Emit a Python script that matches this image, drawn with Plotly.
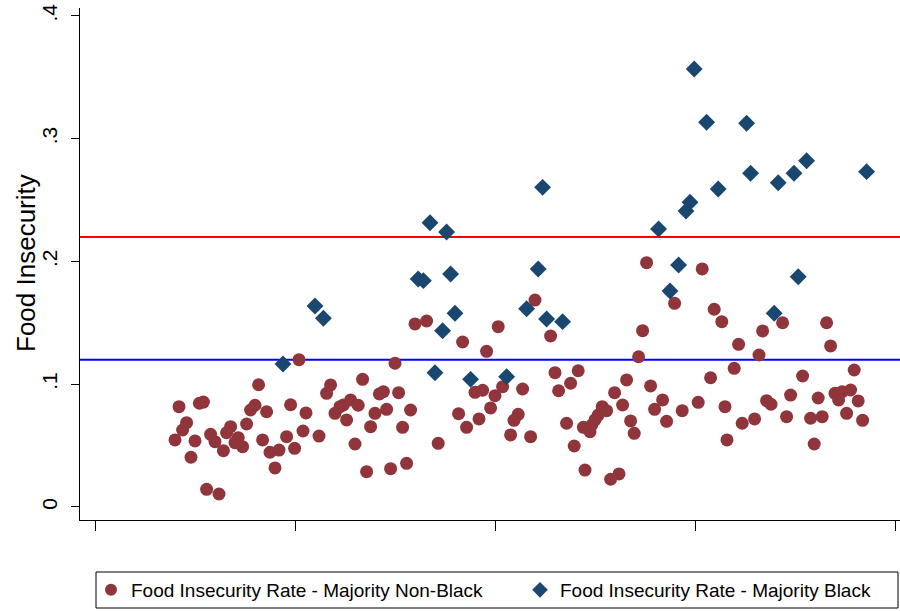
import plotly.graph_objects as go

# ---- data ----
nonblack_x = [51.0, 40.9, 21.0, 26.1, 27.1, 40.0, 38.9, 42.9, 48.9, 52.75,
              22.9, 21.9, 20.0, 25.0, 24.0, 28.9, 30.0, 32.1, 33.9, 32.9,
              35.8, 35.0, 36.9, 37.9, 41.9, 43.75, 46.0, 45.0, 47.9, 49.9,
              52.0, 27.9, 31.0, 75.0, 80.0, 82.9, 58.9, 57.9, 66.9, 56.0,
              60.0, 61.25, 62.1, 63.9, 65.8, 62.9, 65.0, 68.9, 70.0, 71.1,
              72.1, 72.9, 75.9, 76.9, 78.9, 67.9, 73.9, 77.9, 85.8, 110.0,
              100.8, 91.9, 97.9, 113.9, 115.0, 120.8, 118.9, 115.9, 95.0, 96.9,
              100.0, 101.9, 106.9, 98.9, 90.9, 92.9, 96.0, 105.8, 104.75, 103.9,
              108.9, 117.9, 119.8, 122.5, 137.9, 151.8, 144.9, 154.8, 156.7, 136.9,
              135.9, 132.9, 129.9, 138.9, 153.9, 131.9, 126.8, 127.9, 125.8, 125.0,
              124.2, 122.1, 123.75, 141.9, 139.9, 146.8, 150.8, 157.5, 133.9, 134.8,
              142.9, 128.9, 131.0, 158.0, 166.9, 171.9, 182.9, 183.9, 160.9, 166.0,
              159.8, 176.9, 189.8, 161.8, 164.9, 167.9, 169.0, 173.9, 172.9, 178.9,
              181.8, 180.8, 185.0, 186.8, 188.9, 185.9, 190.8, 187.9, 191.9, 179.8]
nonblack_y = [0.120, 0.0996, 0.0817, 0.0845, 0.0855, 0.0829, 0.0790, 0.0776, 0.0833, 0.0766,
              0.0687, 0.0627, 0.0546, 0.0538, 0.0405, 0.0592, 0.0532, 0.0459, 0.0654, 0.0605,
              0.0565, 0.0524, 0.0491, 0.0676, 0.0546, 0.0446, 0.0464, 0.0318, 0.0573, 0.0478,
              0.0619, 0.0144, 0.0106, 0.1171, 0.1491, 0.1515, 0.0994, 0.0926, 0.1040, 0.0578,
              0.0763, 0.0817, 0.0831, 0.0872, 0.0829, 0.0709, 0.0513, 0.0654, 0.0763, 0.0921,
              0.0939, 0.0796, 0.0931, 0.0649, 0.0790, 0.0288, 0.0312, 0.0356, 0.0519, 0.1686,
              0.1469, 0.1344, 0.1268, 0.1393, 0.1094, 0.1110, 0.1008, 0.0947, 0.0934, 0.0951,
              0.0907, 0.0980, 0.0961, 0.0807, 0.0760, 0.0649, 0.0717, 0.0755, 0.0706, 0.0587,
              0.0573, 0.0682, 0.0497, 0.0301, 0.1990, 0.1939, 0.1659, 0.1611, 0.1510, 0.1436,
              0.1224, 0.1035, 0.0931, 0.0986, 0.1053, 0.0831, 0.0817, 0.0785, 0.0749, 0.0709,
              0.0668, 0.0649, 0.0613, 0.0872, 0.0796, 0.0785, 0.0853, 0.0817, 0.0701, 0.0600,
              0.0698, 0.0226, 0.0269, 0.0546, 0.1434, 0.1501, 0.1501, 0.1312, 0.1325, 0.1238,
              0.1130, 0.1067, 0.1116, 0.0682, 0.0717, 0.0866, 0.0837, 0.0912, 0.0736, 0.0723,
              0.0736, 0.0888, 0.0926, 0.0939, 0.0953, 0.0872, 0.0864, 0.0763, 0.0706, 0.0513]

black_x = [47.0, 55.0, 57.1, 80.8, 82.1, 83.75, 85.0, 86.9, 87.9, 88.9,
           90.0, 93.9, 102.9, 107.9, 110.8, 111.9, 112.9, 116.9, 140.9, 143.75,
           145.9, 147.75, 148.75, 149.8, 152.9, 155.8, 162.9, 163.9, 169.8, 170.8,
           174.75, 175.8, 177.9, 192.9]
black_y = [0.1165, 0.1637, 0.1537, 0.1857, 0.1844, 0.2316, 0.1094, 0.1436, 0.2240, 0.1898,
           0.1578, 0.1040, 0.1062, 0.1615, 0.1939, 0.2604, 0.1532, 0.1510, 0.2265, 0.1760,
           0.1971, 0.2411, 0.2482, 0.3568, 0.3134, 0.2591, 0.3126, 0.2719, 0.1578, 0.2642,
           0.2719, 0.1876, 0.2821, 0.2732]

ref_lines = [0.22, 0.12]
ref_colors = ["#FF0000", "#0000FF"]

y_tickvals = [0, 0.1, 0.2, 0.3, 0.4]
y_ticktext = ["0", ".1", ".2", ".3", ".4"]
x_tickvals = [0, 50, 100, 150, 200]

y_title = "Food Insecurity"
names = ["Food Insecurity Rate - Majority Non-Black",
         "Food Insecurity Rate - Majority Black"]

FONT = "Liberation Sans, Arial, sans-serif"

fig = go.Figure()
fig.add_trace(go.Scatter(
    x=nonblack_x, y=nonblack_y, mode="markers", name=names[0], legend="legend",
    marker=dict(symbol="circle", size=13, color="#90353B", line=dict(width=0))))
fig.add_trace(go.Scatter(
    x=black_x, y=black_y, mode="markers", name=names[1], legend="legend2",
    marker=dict(symbol="diamond", size=13, color="#1A476F", line=dict(width=0))))

for v, c in zip(ref_lines, ref_colors):
    fig.add_shape(type="line", xref="paper", yref="y", x0=0, x1=1, y0=v, y1=v,
                  line=dict(color=c, width=2), layer="below")

W, H = 900, 611
L, R, T, B = 80, 900, 8, 520          # plot area in pixels
def px_x(p):
    return (p - L) / (R - L)
def px_y(p):
    return (B - p) / (B - T)

fig.add_shape(type="rect", xref="paper", yref="paper",
              x0=px_x(96), x1=px_x(898), y0=px_y(608), y1=px_y(572),
              line=dict(color="black", width=1), fillcolor="rgba(0,0,0,0)")

# y-axis title placed as rotated text
fig.add_annotation(text=y_title, textangle=-90, showarrow=False,
                   xref="paper", yref="paper", x=px_x(26), y=px_y(263),
                   xanchor="center", yanchor="middle",
                   font=dict(family=FONT, size=26, color="black"))

leg_common = dict(orientation="h", xanchor="left", yanchor="middle", y=px_y(590),
                  font=dict(family=FONT, size=19, color="black"),
                  bgcolor="rgba(0,0,0,0)", borderwidth=0, itemsizing="constant")

fig.update_layout(
    width=W, height=H,
    margin=dict(l=L, r=W - R, t=T, b=H - B, autoexpand=False),
    paper_bgcolor="white", plot_bgcolor="white",
    font=dict(family=FONT, color="black"),
    showlegend=True,
    legend=dict(x=px_x(91), **leg_common),
    legend2=dict(x=px_x(520), **leg_common),
    xaxis=dict(range=[-3.75, 201.25], tickvals=x_tickvals, showticklabels=False,
               ticks="outside", ticklen=10, tickcolor="black", tickwidth=1,
               showline=True, linecolor="black", linewidth=1,
               showgrid=False, zeroline=False, automargin=False),
    yaxis=dict(range=[-0.0106, 0.4065], tickvals=y_tickvals, ticktext=y_ticktext,
               tickangle=-90, tickfont=dict(size=21, color="black"),
               ticklabeloverflow="allow", ticklabelstandoff=6,
               ticks="outside", ticklen=8, tickcolor="black", tickwidth=1,
               showline=True, linecolor="black", linewidth=1,
               showgrid=False, zeroline=False, automargin=False),
)

fig.write_html("out.html", config={"displayModeBar": False},
               post_script="document.body.style.margin='0';document.body.style.overflow='hidden';")
